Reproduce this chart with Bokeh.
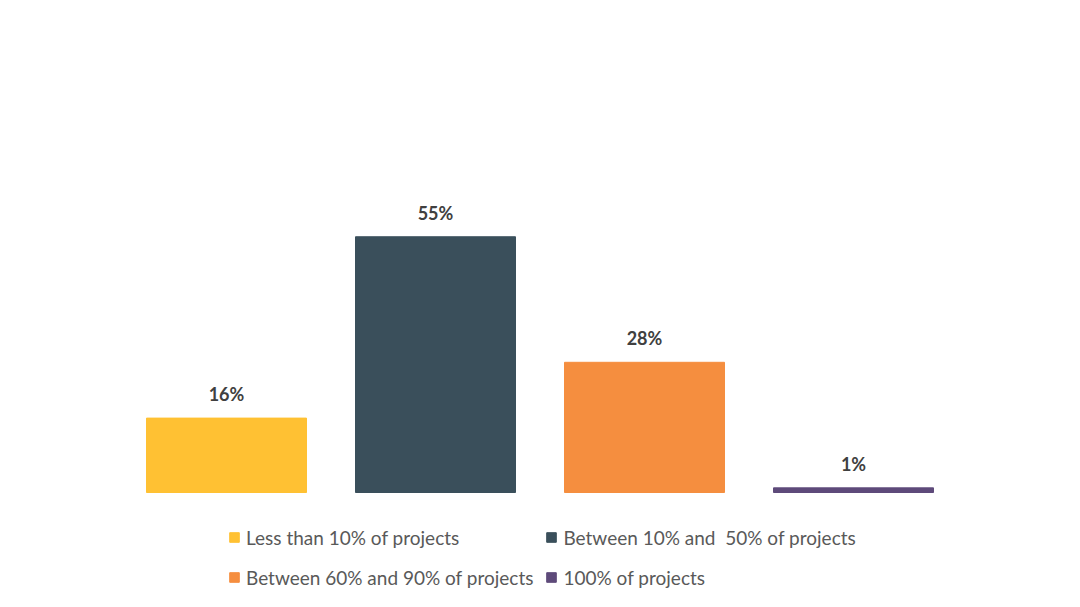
from bokeh.plotting import figure
from bokeh.models import ColumnDataSource, Legend, LegendItem, Range1d
from bokeh.core.properties import value
from bokeh.embed import file_html
from bokeh.resources import INLINE

categories = ["Less than 10% of projects", "Between 10% and  50% of projects",
              "Between 60% and 90% of projects", "100% of projects"]
values = [16, 55, 28, 1]
labels = ["16%", "55%", "28%", "1%"]
colors = ["#FFC133", "#3A4F5B", "#F58E3F", "#5E4A7A"]

xs = list(range(len(categories)))
src = ColumnDataSource(dict(x=xs, v=values, lab=labels, col=colors, cat=categories))

W, H = 1064, 591
px_x = 209.0
x0 = -226.0 / px_x
px_y = 4.65
y0 = -(H - 492.0) / px_y

p = figure(width=W, height=H, output_backend="svg", toolbar_location=None,
           x_range=Range1d(x0, x0 + W / px_x), y_range=Range1d(y0, y0 + H / px_y),
           min_border=0, outline_line_color=None, background_fill_color="white")
p.axis.visible = False
p.grid.visible = False

r = p.vbar(x="x", top="v", bottom=0, width=160 / px_x, color="col", source=src)

p.text(x="x", y="v", text="lab", source=src, text_align="center", text_baseline="bottom",
       y_offset=-13, text_font=value("Lato"), text_font_style="bold",
       text_font_size="18px", text_color="#404040")

items = [LegendItem(label=c, renderers=[r], index=i) for i, c in enumerate(categories)]
legend = Legend(items=items, location=(228, 0), ncols=2, orientation="horizontal",
                glyph_width=12, glyph_height=12, label_height=28, spacing=12,
                label_standoff=6, padding=0, margin=0, border_line_color=None,
                background_fill_alpha=0, label_text_font="Lato",
                label_text_font_size="19px", label_text_color="#595959")
p.add_layout(legend)

open("out.html", "w").write(file_html(p, INLINE))
